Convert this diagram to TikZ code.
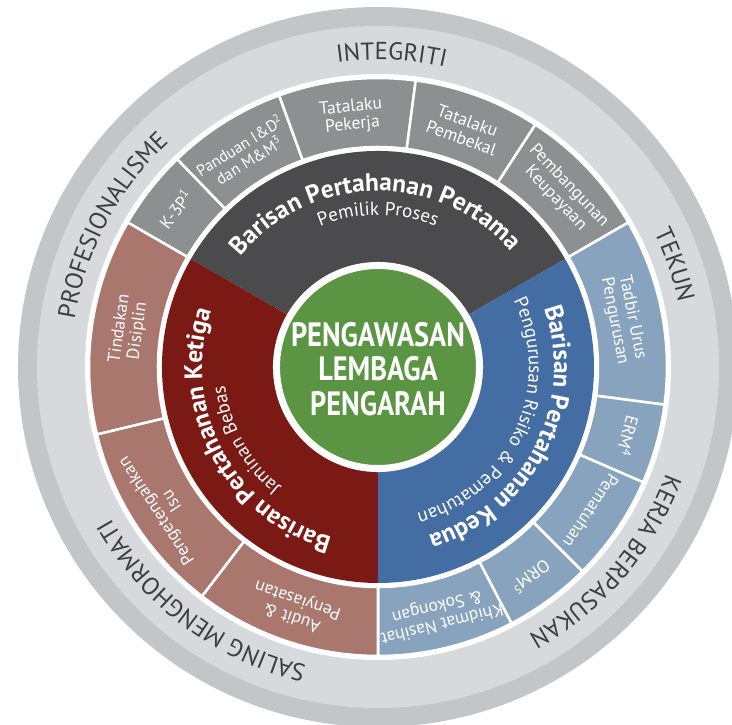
\documentclass[tikz,border=0pt]{standalone}
\usepackage{fontspec}
\setmainfont{PT Sans}
\usetikzlibrary{decorations.text}

\definecolor{ringdark}{HTML}{C3C6C9}
\definecolor{ringlight}{HTML}{D7DADC}
\definecolor{ringtext}{HTML}{3D3D3F}
\definecolor{greyseg}{HTML}{8D9091}
\definecolor{pertama}{HTML}{4B4B4D}
\definecolor{ketiga}{HTML}{7B1A14}
\definecolor{ketigaseg}{HTML}{A9776D}
\definecolor{kedua}{HTML}{446EA3}
\definecolor{keduaseg}{HTML}{88A3BE}
\definecolor{lembagagreen}{HTML}{5B9543}

\newcommand{\ringfont}{\fontsize{17.5}{20}\selectfont}
\newcommand{\mainfont}{\bfseries\fontsize{18}{21}\selectfont}
\newcommand{\subfont}{\fontsize{13.5}{15}\selectfont}

\begin{document}
\begin{tikzpicture}[x=0.025cm, y=0.025cm,
  seg/.style={draw=white, line width=1.8pt},
  segtext/.style={text=white, align=center, inner sep=0pt, font=\fontsize{12.5}{13}\selectfont},
  ringword/.style={decorate, decoration={text along path, text align=center, text color=ringtext, text={|\ringfont|#1}}},
  mainword/.style={decorate, decoration={text along path, text align=center, text color=white, text={|\mainfont|#1}}},
  subword/.style={decorate, decoration={text along path, text align=center, text color=white, text={|\subfont|#1}}},
  centre/.style={circle, fill=lembagagreen, draw=white, line width=5pt, minimum size=5.075cm, inner sep=0pt},
  centretext/.style={text=white, align=center, xscale=0.84, font=\bfseries\fontsize{24}{24.5}\selectfont}]
 \useasboundingbox (-378,-358) rectangle (354,367);
 \clip (-378,-358) rectangle (354,367);

 % outer ring
 \fill[ringdark] (0,0) circle[radius=360];
 \fill[ringlight] (0,0) circle[radius=341];
 \fill[white] (0,0) circle[radius=293];

 % first line segments
 \path[seg, fill=greyseg] (134:220) arc[start angle=134, end angle=150, radius=220] -- (150:289) arc[start angle=150, end angle=134, radius=289] -- cycle;
 \path[seg, fill=greyseg] (110:220) arc[start angle=110, end angle=134, radius=220] -- (134:289) arc[start angle=134, end angle=110, radius=289] -- cycle;
 \path[seg, fill=greyseg] (82.5:220) arc[start angle=82.5, end angle=110, radius=220] -- (110:289) arc[start angle=110, end angle=82.5, radius=289] -- cycle;
 \path[seg, fill=greyseg] (57:220) arc[start angle=57, end angle=82.5, radius=220] -- (82.5:289) arc[start angle=82.5, end angle=57, radius=289] -- cycle;
 \path[seg, fill=greyseg] (30:220) arc[start angle=30, end angle=57, radius=220] -- (57:289) arc[start angle=57, end angle=30, radius=289] -- cycle;
 % second line segments
 \path[seg, fill=keduaseg] (-7.5:220) arc[start angle=-7.5, end angle=30, radius=220] -- (30:289) arc[start angle=30, end angle=-7.5, radius=289] -- cycle;
 \path[seg, fill=keduaseg] (-23.5:220) arc[start angle=-23.5, end angle=-7.5, radius=220] -- (-7.5:289) arc[start angle=-7.5, end angle=-23.5, radius=289] -- cycle;
 \path[seg, fill=keduaseg] (-45:220) arc[start angle=-45, end angle=-23.5, radius=220] -- (-23.5:289) arc[start angle=-23.5, end angle=-45, radius=289] -- cycle;
 \path[seg, fill=keduaseg] (-62.5:220) arc[start angle=-62.5, end angle=-45, radius=220] -- (-45:289) arc[start angle=-45, end angle=-62.5, radius=289] -- cycle;
 \path[seg, fill=keduaseg] (-90:220) arc[start angle=-90, end angle=-62.5, radius=220] -- (-62.5:289) arc[start angle=-62.5, end angle=-90, radius=289] -- cycle;
 % third line segments
 \path[seg, fill=ketigaseg] (150:220) arc[start angle=150, end angle=193.5, radius=220] -- (193.5:289) arc[start angle=193.5, end angle=150, radius=289] -- cycle;
 \path[seg, fill=ketigaseg] (193.5:220) arc[start angle=193.5, end angle=232.5, radius=220] -- (232.5:289) arc[start angle=232.5, end angle=193.5, radius=289] -- cycle;
 \path[seg, fill=ketigaseg] (232.5:220) arc[start angle=232.5, end angle=270, radius=220] -- (270:289) arc[start angle=270, end angle=232.5, radius=289] -- cycle;

 % main sectors
 \fill[pertama] (0,0) -- (30:216) arc[start angle=30, end angle=150, radius=216] -- cycle;
 \fill[ketiga] (0,0) -- (150:216) arc[start angle=150, end angle=270, radius=216] -- cycle;
 \fill[kedua] (0,0) -- (270:216) arc[start angle=270, end angle=390, radius=216] -- cycle;

 \node[centre] (lembaga) at (0,0) {};
 \node[centretext] (lembagatext) at (0,-2) {PENGAWASAN\\LEMBAGA\\PENGARAH};

 % segment labels
 \node[segtext, rotate=52] (k3p) at (142:257) {K-3P\textsuperscript{1}};
 \node[segtext, rotate=32, font=\fontsize{11.5}{12.5}\selectfont] (panduan) at (122:253) {Panduan I\&D\textsuperscript{2}\\dan M\&M\textsuperscript{3}};
 \node[segtext, rotate=6] (pekerja) at (96:252) {Tatalaku\\Pekerja};
 \node[segtext, rotate=-20] (pembekal) at (70:253) {Tatalaku\\Pembekal};
 \node[segtext, rotate=-46.5] (keupayaan) at (43.5:254) {Pembangunan\\Keupayaan};
 \node[segtext, rotate=-79] (tadbir) at (11:250) {Tadbir Urus\\Pengurusan};
 \node[segtext, rotate=-105.5] (erm) at (-15.5:260) {ERM\textsuperscript{4}};
 \node[segtext, rotate=-124] (pematuhan) at (-34:257) {Pematuhan};
 \node[segtext, rotate=-144] (orm) at (-54:260) {ORM\textsuperscript{5}};
 \node[segtext, rotate=-166] (khidmat) at (-76:255) {Khidmat Nasihat\\\& Sokongan};
 \node[segtext, rotate=82] (tindakan) at (171.5:252) {Tindakan\\Disiplin};
 \node[segtext, rotate=123] (isu) at (213:256) {Pengetengahkan\\Isu};
 \node[segtext, rotate=161] (audit) at (251:255) {Audit \&\\Penyiasatan};

 % curved titles
 \path[mainword={Barisan Pertahanan Pertama}] (161:176) arc[start angle=161, end angle=21, radius=176];
 \path[subword={Pemilik Proses}] (160:152) arc[start angle=160, end angle=20, radius=152];
 \path[mainword={Barisan Pertahanan Kedua}] (43:176) arc[start angle=43, end angle=-97, radius=176];
 \path[subword={Pengurusan Risiko {\&} Pematuhan}] (45.5:151) arc[start angle=45.5, end angle=-94.5, radius=151];
 \path[mainword={Barisan Pertahanan Ketiga}] (278:176) arc[start angle=278, end angle=138, radius=176];
 \path[subword={Jaminan Bebas}] (279:154) arc[start angle=279, end angle=139, radius=154];

 % values
 \path[ringword={INTEGRITI}] (157.5:307) arc[start angle=157.5, end angle=17.5, radius=307];
 \path[ringword={TEKUN}] (89:307) arc[start angle=89, end angle=-51, radius=307];
 \path[ringword={KERJA BERPASUKAN}] (29.5:307) arc[start angle=29.5, end angle=-110.5, radius=307];
 \path[ringword={SALING MENGHORMATI}] (303:307) arc[start angle=303, end angle=163, radius=307];
 \path[ringword={PROFESIONALISME}] (222:307) arc[start angle=222, end angle=82, radius=307];
\end{tikzpicture}
\end{document}
